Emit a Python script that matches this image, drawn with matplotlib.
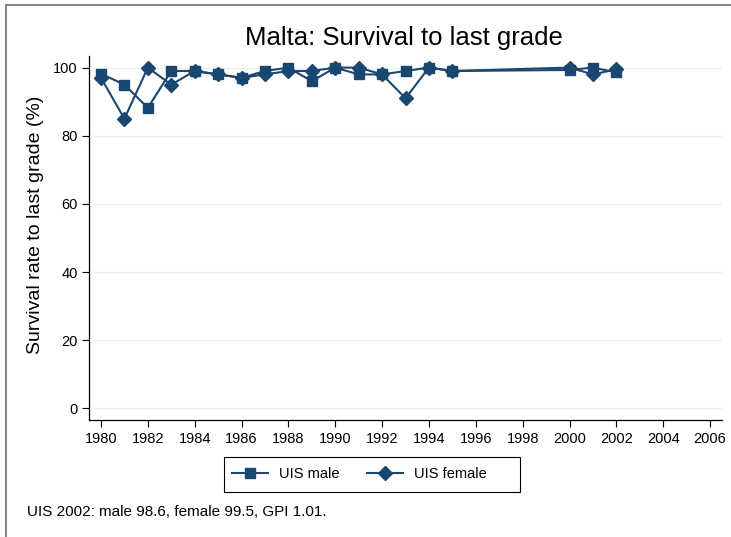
import matplotlib
matplotlib.use('Agg')
import matplotlib.pyplot as plt
from matplotlib.lines import Line2D
from matplotlib.patches import Rectangle

plt.rcParams['font.family'] = ['Liberation Sans', 'DejaVu Sans']

# data
years = [1980, 1981, 1982, 1983, 1984, 1985, 1986, 1987, 1988, 1989,
         1990, 1991, 1992, 1993, 1994, 1995, 2000, 2001, 2002]
male = [98.2, 95.0, 88.2, 99.0, 99.0, 98.0, 97.0, 99.0, 100.0, 96.0,
        100.0, 98.0, 98.0, 99.0, 100.0, 99.0, 99.3, 100.0, 98.6]
female = [97.0, 85.0, 100.0, 95.0, 99.0, 98.0, 97.0, 98.0, 99.0, 99.0,
          100.0, 100.0, 98.0, 91.0, 100.0, 99.0, 100.0, 98.0, 99.5]
x_ticks = list(range(1980, 2007, 2))
y_ticks = [0, 20, 40, 60, 80, 100]

navy = '#1a476f'
sq_size = 6.8
dia_size = 7.5
W, H = 731, 537

fig = plt.figure(figsize=(W / 100, H / 100), dpi=100)
ax = fig.add_axes([0.1218, 0.2179, 0.8659, 0.6778])

ax.plot(years, male, color=navy, marker='s', markersize=sq_size, linewidth=1.5, label='UIS male')
ax.plot(years, female, color=navy, marker='D', markersize=dia_size, linewidth=1.5, label='UIS female')

ax.set_xlim(1979.49, 2006.51)
ax.set_ylim(-3.4, 103.4)
ax.set_xticks(x_ticks)
ax.set_yticks(y_ticks)
ax.tick_params(labelsize=10.5, length=5, width=0.8, colors='#000000')
ax.tick_params(axis='y', pad=3)

for y in y_ticks:
    ax.axhline(y, color='#eaf2f3', linewidth=1, zorder=0)

for s in ['top', 'right']:
    ax.spines[s].set_visible(False)
for s in ['left', 'bottom']:
    ax.spines[s].set_linewidth(0.9)

ax.set_ylabel('Survival rate to last grade (%)', fontsize=14)
ax.yaxis.set_label_coords(-0.071, 0.535)
fig.text(0.552, 0.929, 'Malta: Survival to last grade', ha='center', va='center', fontsize=18.5)

# legend: entries without frame, box drawn by hand (wide right padding)
handles = [Line2D([], [], color=navy, marker='s', markersize=sq_size, linewidth=1.5),
           Line2D([], [], color=navy, marker='D', markersize=dia_size, linewidth=1.5)]
fig.legend(handles, ['UIS male', 'UIS female'], loc='center left', ncol=2,
           bbox_to_anchor=(232 / W, 1 - 474.5 / H), frameon=False,
           fontsize=10.5, handlelength=2.47, handletextpad=0.75,
           columnspacing=1.92, borderpad=0, borderaxespad=0)
fig.patches.append(Rectangle((224 / W, 1 - 492 / H), 296 / W, 35 / H,
                             transform=fig.transFigure, fill=False,
                             edgecolor='#000000', linewidth=0.8))

fig.text(0.037, 0.047, 'UIS 2002: male 98.6, female 99.5, GPI 1.01.', fontsize=11, va='center')

# thin outer border at the top and left edge
fig.add_artist(Line2D([6 / W, 1], [1 - 5 / H, 1 - 5 / H], transform=fig.transFigure,
                      color='#6e6e6e', linewidth=1.2))
fig.add_artist(Line2D([6 / W, 6 / W], [0, 1 - 5 / H], transform=fig.transFigure,
                      color='#6e6e6e', linewidth=1.2))

fig.savefig('out.png', dpi=100, facecolor='white')
